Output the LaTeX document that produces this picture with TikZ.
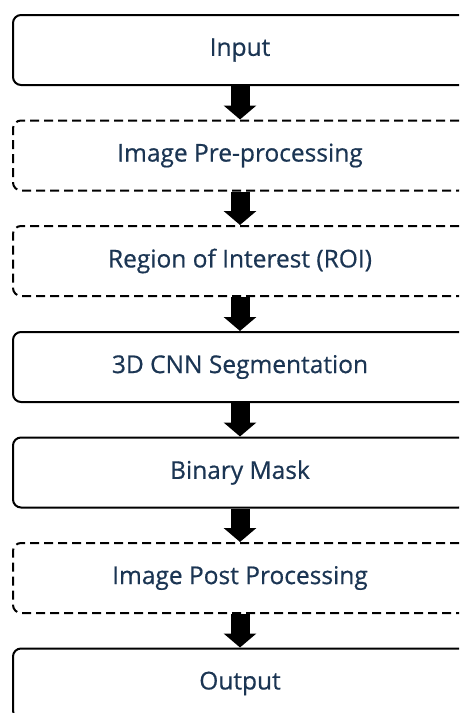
\documentclass[tikz,border=0pt]{standalone}
\usepackage{fontspec}
\setmainfont{Open Sans}
\newfontfamily\stagefont[FakeBold=0.6]{Open Sans}
\usetikzlibrary{arrows.meta}
\definecolor{txt}{HTML}{1B3553}
\tikzset{
  stage/.style={draw=black, line width=2pt, rounded corners=8pt, minimum width=454pt, minimum height=70pt, inner sep=0pt, text=txt, font=\stagefont\fontsize{24.5}{29}\selectfont, anchor=north},
  optstage/.style={stage, dash pattern=on 9pt off 5pt},
  flow/.style={line width=19pt, -{Triangle[width=32pt,length=14pt]}, black}
}
\begin{document}
\begin{tikzpicture}[x=1pt,y=1pt]
\useasboundingbox (0,0) rectangle (459,-713);
\clip (0,0) rectangle (459,-713);
\node[stage] (in) at (240,-14) {Input};
\node[optstage] (pre) at (240,-119.5) {Image Pre-processing};
\node[optstage] (roi) at (240,-225) {Region of Interest (ROI)};
\node[stage] (cnn) at (240,-331) {3D CNN Segmentation};
\node[stage] (mask) at (240,-436.5) {Binary Mask};
\node[optstage] (post) at (240,-542) {Image Post Processing};
\node[stage] (out) at (240,-647.5) {Output};
\foreach \a/\b in {in/pre,pre/roi,roi/cnn,cnn/mask,mask/post,post/out}
  \draw[flow] (\a.south) -- (\b.north);
\end{tikzpicture}
\end{document}
